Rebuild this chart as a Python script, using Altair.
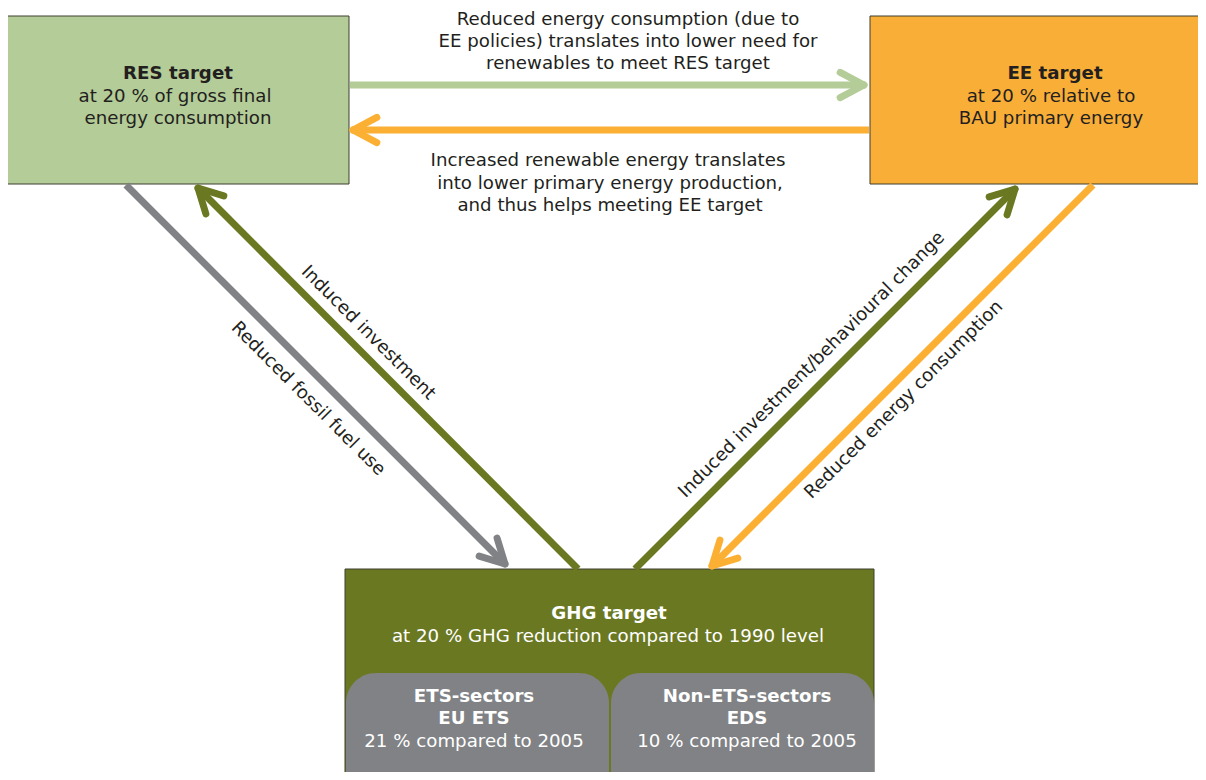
import math
import altair as alt
import pandas as pd

# ---------------- content ----------------
# Main boxes (layout in reference pixels)
box_names = ["RES", "EE", "GHG"]
box_x0 = [7, 870, 345]
box_x1 = [349, 1220, 874]
box_y0 = [16, 16, 569]
box_y1 = [184, 184, 820]
box_fill = ["#b4cc97", "#f9ae37", "#6b7822"]

# Sub boxes inside the GHG target
sub_names = ["ETS", "Non-ETS"]
sub_x0 = [346, 611]
sub_x1 = [609, 874]
sub_y0 = [673, 673]
sub_y1 = [830, 830]
sub_fill = ["#808285", "#808285"]

# Arrows: start -> tip
arrow_ids = ["ee_to_res_need", "res_to_ee", "res_to_ghg", "ghg_to_res", "ghg_to_ee", "ee_to_ghg"]
arrow_x0 = [350, 869, 126, 578, 635, 1093]
arrow_y0 = [85, 130, 185, 569, 569, 185]
arrow_x1 = [864, 353, 505, 198, 1015, 712]
arrow_y1 = [85, 130, 564, 188, 189, 566]
arrow_col = ["#b4cc97", "#fbb034", "#808285", "#6b7822", "#6b7822", "#fbb034"]

# Text lines in boxes and between boxes
bold_text = ["RES target", "EE target", "GHG target",
             "ETS-sectors", "EU ETS", "Non-ETS-sectors", "EDS"]
bold_x = [178, 1055, 609, 474, 474, 747, 747]
bold_y = [74, 74, 614, 697, 719, 697, 719]
bold_col = ["#231f20", "#231f20", "white", "white", "white", "white", "white"]

plain_text = ["at 20 % of gross final", "energy consumption",
              "at 20 % relative to", "BAU primary energy",
              "at 20 % GHG reduction compared to 1990 level",
              "21 % compared to 2005", "10 % compared to 2005",
              "Reduced energy consumption (due to",
              "EE policies) translates into lower need for",
              "renewables to meet RES target",
              "Increased renewable energy translates",
              "into lower primary energy production,",
              "and thus helps meeting EE target"]
plain_x = [175, 178, 1051, 1051, 608, 474, 747, 628, 628, 628, 608, 610, 610]
plain_y = [97, 119, 97, 119, 637, 742, 742, 20, 42, 64, 161, 184, 206]
plain_col = ["#231f20"] * 4 + ["white"] * 3 + ["#231f20"] * 6

# Labels along diagonal arrows
diag_text = ["Reduced fossil fuel use", "Induced investment",
             "Induced investment/behavioural change", "Reduced energy consumption"]
diag_x = [308, 368, 812, 904]
diag_y = [399, 333, 365, 400]
diag_angle = [45, 45, 315, 315]

# ---------------- tables ----------------
boxes = pd.DataFrame({"name": box_names, "x": box_x0, "x2": box_x1,
                      "y": box_y0, "y2": box_y1, "c": box_fill})
subs = pd.DataFrame({"name": sub_names, "x": sub_x0, "x2": sub_x1,
                     "y": sub_y0, "y2": sub_y1, "c": sub_fill})
shafts = pd.DataFrame({"id": arrow_ids, "x": arrow_x0, "y": arrow_y0,
                       "x2": arrow_x1, "y2": arrow_y1, "c": arrow_col})

head_rows = []
for i, (sx, sy, tx, ty, c) in enumerate(zip(arrow_x0, arrow_y0, arrow_x1, arrow_y1, arrow_col)):
    dx, dy = sx - tx, sy - ty
    n = math.hypot(dx, dy)
    ux, uy = dx / n, dy / n
    for s in (1, -1):
        a = math.radians(28 * s)
        rx = ux * math.cos(a) - uy * math.sin(a)
        ry = ux * math.sin(a) + uy * math.cos(a)
        head_rows.append({"id": f"{arrow_ids[i]}_{s}", "x": tx, "y": ty,
                          "x2": tx + 27 * rx, "y2": ty + 27 * ry, "c": c})
heads = pd.DataFrame(head_rows)

bold = pd.DataFrame({"t": bold_text, "x": bold_x, "y": bold_y, "c": bold_col})
plain = pd.DataFrame({"t": plain_text, "x": plain_x, "y": plain_y, "c": plain_col})
diag = pd.DataFrame({"t": diag_text, "x": diag_x, "y": diag_y, "a": diag_angle})

# ---------------- scales ----------------
xs = alt.Scale(domain=[8, 1198], range=[0, 1190], nice=False, zero=False)
ys = alt.Scale(domain=[8, 772], range=[0, 764], nice=False, zero=False)
X = lambda: alt.X("x:Q", scale=xs, axis=None)
Y = lambda: alt.Y("y:Q", scale=ys, axis=None)
col = alt.Color("c:N", scale=None, legend=None)
FS = 18.2

box_layer = alt.Chart(boxes).mark_rect(stroke="#3f3f30", strokeWidth=1).encode(
    x=X(), x2="x2:Q", y=Y(), y2="y2:Q", fill=alt.Fill("c:N", scale=None, legend=None))
sub_layer = alt.Chart(subs).mark_rect(cornerRadius=30).encode(
    x=X(), x2="x2:Q", y=Y(), y2="y2:Q", fill=alt.Fill("c:N", scale=None, legend=None))
shaft_layer = alt.Chart(shafts).mark_rule(strokeWidth=7, strokeCap="butt").encode(
    x=X(), y=Y(), x2="x2:Q", y2="y2:Q", color=col)
head_layer = alt.Chart(heads).mark_rule(strokeWidth=7, strokeCap="round").encode(
    x=X(), y=Y(), x2="x2:Q", y2="y2:Q", color=col)

bold_layer = alt.Chart(bold).mark_text(font="DejaVu Sans", fontSize=FS, fontWeight="bold",
                                       align="center", baseline="middle").encode(
    x=X(), y=Y(), text="t:N", color=col)
plain_layer = alt.Chart(plain).mark_text(font="DejaVu Sans", fontSize=FS,
                                         align="center", baseline="middle").encode(
    x=X(), y=Y(), text="t:N", color=col)
diag_layer = alt.Chart(diag).mark_text(font="DejaVu Sans", fontSize=FS, color="#231f20",
                                       align="center", baseline="middle").encode(
    x=X(), y=Y(), text="t:N", angle=alt.Angle("a:Q", scale=None))

chart = alt.layer(box_layer, sub_layer, shaft_layer, head_layer,
                  bold_layer, plain_layer, diag_layer).properties(
    width=1190, height=764, padding=0,
    autosize=alt.AutoSizeParams(type="none"),
    background="white",
).configure_view(strokeWidth=0)

chart.save("out.html", embed_options={"renderer": "svg", "actions": False})
